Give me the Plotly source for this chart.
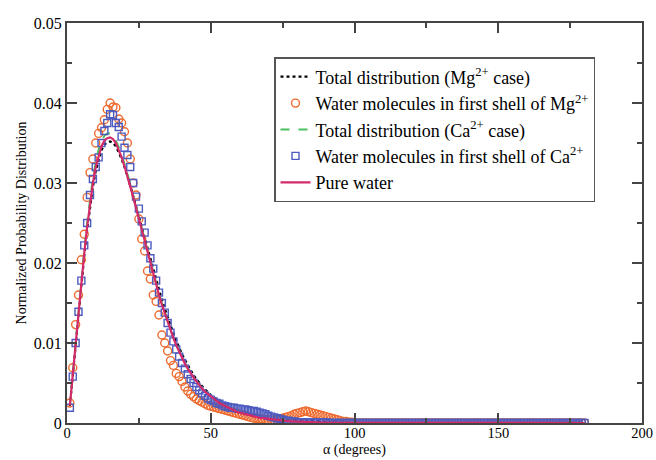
import plotly.graph_objects as go

# angle grid (degrees), 1-degree bins
alpha = list(range(1, 181))

# values for 1..100 degrees
pure_water = [
    0.0022, 0.0062, 0.0102, 0.0140, 0.0177, 0.0212, 0.0245, 0.0275, 0.0300, 0.0320,
    0.0335, 0.0346, 0.0353, 0.0356, 0.0357, 0.0355, 0.0350, 0.0342, 0.0332, 0.0321,
    0.0309, 0.0296, 0.0283, 0.0269, 0.0255, 0.0241, 0.0227, 0.0213, 0.0199, 0.0186,
    0.0173, 0.0160, 0.0148, 0.0137, 0.0126, 0.0116, 0.0106, 0.0097, 0.0089, 0.0081,
    0.0074, 0.0068, 0.0062, 0.0057, 0.0052, 0.0047, 0.0043, 0.0039, 0.0036, 0.0033,
    0.0030, 0.0027, 0.0025, 0.0023, 0.0021, 0.0019, 0.0017, 0.0016, 0.0014, 0.0013,
    0.0012, 0.0011, 0.0010, 0.0009, 0.0008, 0.0007, 0.00065, 0.0006, 0.00055, 0.0005,
    0.00045, 0.0004, 0.00035, 0.0003, 0.00028, 0.00025, 0.00022, 0.0002, 0.00018, 0.00016,
    0.00014, 0.00012, 0.0001, 0.00009, 0.00008, 0.00007, 0.00006, 0.00005, 0.00004, 0.00003,
    0.00003, 0.00002, 0.00002, 0.00001, 0.00001, 0.00001, 0.0, 0.0, 0.0, 0.0,
]

total_mg = [
    0.0021, 0.0060, 0.0100, 0.0138, 0.0175, 0.0209, 0.0241, 0.0270, 0.0295, 0.0315,
    0.0330, 0.0341, 0.0348, 0.0351, 0.0352, 0.0350, 0.0346, 0.0339, 0.0330, 0.0320,
    0.0309, 0.0297, 0.0284, 0.0271, 0.0258, 0.0244, 0.0231, 0.0217, 0.0204, 0.0191,
    0.0178, 0.0166, 0.0154, 0.0143, 0.0132, 0.0122, 0.0112, 0.0103, 0.0094, 0.0086,
    0.0079, 0.0072, 0.0066, 0.0060, 0.0055, 0.0050, 0.0046, 0.0042, 0.0038, 0.0035,
    0.0032, 0.0029, 0.0026, 0.0024, 0.0022, 0.0020, 0.0018, 0.0016, 0.0015, 0.0013,
    0.0012, 0.0011, 0.0010, 0.0009, 0.0008, 0.0007, 0.0007, 0.0006, 0.0006, 0.0005,
    0.0005, 0.0004, 0.0004, 0.0004, 0.0004, 0.0004, 0.0004, 0.0004, 0.0004, 0.0004,
    0.0004, 0.0004, 0.0004, 0.0004, 0.0003, 0.0003, 0.0003, 0.0002, 0.0002, 0.0002,
    0.0001, 0.0001, 0.0001, 0.0001, 0.0001, 0.0, 0.0, 0.0, 0.0, 0.0,
]

total_ca = [
    0.0022, 0.0062, 0.0103, 0.0142, 0.0180, 0.0216, 0.0250, 0.0280, 0.0306, 0.0326,
    0.0342, 0.0352, 0.0359, 0.0362, 0.0362, 0.0359, 0.0353, 0.0345, 0.0335, 0.0324,
    0.0312, 0.0299, 0.0286, 0.0272, 0.0258, 0.0244, 0.0229, 0.0215, 0.0201, 0.0188,
    0.0174, 0.0162, 0.0150, 0.0138, 0.0127, 0.0117, 0.0107, 0.0098, 0.0090, 0.0082,
    0.0075, 0.0069, 0.0063, 0.0058, 0.0053, 0.0048, 0.0044, 0.0041, 0.0037, 0.0034,
    0.0031, 0.0029, 0.0026, 0.0024, 0.0022, 0.0020, 0.0019, 0.0017, 0.0016, 0.0015,
    0.0013, 0.0012, 0.0011, 0.0010, 0.0009, 0.0008, 0.0007, 0.0007, 0.0006, 0.0005,
    0.0005, 0.0004, 0.0004, 0.0003, 0.0003, 0.0003, 0.0002, 0.0002, 0.0002, 0.0002,
    0.0001, 0.0001, 0.0001, 0.0001, 0.0001, 0.0001, 0.0001, 0.0001, 0.0001, 0.0001,
    0.0, 0.0, 0.0, 0.0, 0.0, 0.0, 0.0, 0.0, 0.0, 0.0,
]

shell_mg = [
    0.0025, 0.0069, 0.0123, 0.0160, 0.0204, 0.0236, 0.0282, 0.0313, 0.0330, 0.0350,
    0.0362, 0.0369, 0.0379, 0.0392, 0.0400, 0.0395, 0.0394, 0.0380, 0.0375, 0.0364,
    0.0350, 0.0330, 0.0300, 0.0285, 0.0255, 0.0230, 0.0215, 0.0190, 0.0180, 0.0160,
    0.0152, 0.0135, 0.0110, 0.0100, 0.0090, 0.0078, 0.0072, 0.0062, 0.0058, 0.0052,
    0.0045, 0.0040, 0.0036, 0.0033, 0.0030, 0.0028, 0.0026, 0.0024, 0.0022, 0.0021,
    0.0020, 0.0019, 0.0018, 0.0017, 0.0016, 0.0015, 0.0014, 0.0013, 0.0012, 0.0011,
    0.0010, 0.0009, 0.0008, 0.0007, 0.0006, 0.0006, 0.0005, 0.0005, 0.0004, 0.0004,
    0.0004, 0.0003, 0.0004, 0.0005, 0.0006, 0.0007, 0.0008, 0.0009, 0.0011, 0.0012,
    0.0013, 0.0014, 0.0015, 0.0014, 0.0013, 0.0012, 0.0011, 0.0010, 0.0009, 0.0008,
    0.0007, 0.0006, 0.0005, 0.0004, 0.0003, 0.0002, 0.0002, 0.0001, 0.0001, 0.0,
]

shell_ca = [
    0.0019, 0.0058, 0.0100, 0.0139, 0.0178, 0.0222, 0.0250, 0.0285, 0.0305, 0.0320,
    0.0332, 0.0350, 0.0365, 0.0375, 0.0386, 0.0385, 0.0375, 0.0370, 0.0358, 0.0344,
    0.0335, 0.0320, 0.0300, 0.0283, 0.0268, 0.0252, 0.0238, 0.0222, 0.0206, 0.0193,
    0.0178, 0.0163, 0.0150, 0.0138, 0.0125, 0.0113, 0.0102, 0.0092, 0.0083, 0.0075,
    0.0068, 0.0061, 0.0055, 0.0050, 0.0045, 0.0041, 0.0037, 0.0034, 0.0031, 0.0029,
    0.0027, 0.0025, 0.0024, 0.0022, 0.0021, 0.0020, 0.0019, 0.0019, 0.0018, 0.0018,
    0.0017, 0.0017, 0.0016, 0.0015, 0.0015, 0.0014, 0.0013, 0.0012, 0.0011, 0.0009,
    0.0008, 0.0007, 0.0006, 0.0005, 0.0004, 0.0003, 0.0003, 0.0002, 0.0002, 0.0001,
    0.0001, 0.0001, 0.0001, 0.0001, 0.0001, 0.0001, 0.0001, 0.0001, 0.0001, 0.0001,
    0.0, 0.0, 0.0, 0.0, 0.0, 0.0, 0.0, 0.0, 0.0, 0.0,
]

# 101..180 degrees: all series are zero
tail = [
    0.0, 0.0, 0.0, 0.0, 0.0, 0.0, 0.0, 0.0, 0.0, 0.0, 0.0, 0.0, 0.0, 0.0, 0.0, 0.0, 0.0, 0.0, 0.0, 0.0,
    0.0, 0.0, 0.0, 0.0, 0.0, 0.0, 0.0, 0.0, 0.0, 0.0, 0.0, 0.0, 0.0, 0.0, 0.0, 0.0, 0.0, 0.0, 0.0, 0.0,
    0.0, 0.0, 0.0, 0.0, 0.0, 0.0, 0.0, 0.0, 0.0, 0.0, 0.0, 0.0, 0.0, 0.0, 0.0, 0.0, 0.0, 0.0, 0.0, 0.0,
    0.0, 0.0, 0.0, 0.0, 0.0, 0.0, 0.0, 0.0, 0.0, 0.0, 0.0, 0.0, 0.0, 0.0, 0.0, 0.0, 0.0, 0.0, 0.0, 0.0,
]

x_tickvals = [0, 50, 100, 150, 200]
y_tickvals = [0, 0.01, 0.02, 0.03, 0.04, 0.05]
y_ticktext = ["0", "0.01", "0.02", "0.03", "0.04", "0.05"]

FONT = "Liberation Serif, Times New Roman, serif"

fig = go.Figure()
fig.add_trace(go.Scatter(
    x=alpha, y=total_mg + tail, mode="lines",
    name="Total distribution (Mg<sup>2+</sup> case)",
    line=dict(color="black", width=2.2, dash="dot"),
))
fig.add_trace(go.Scatter(
    x=alpha, y=shell_mg + tail, mode="markers",
    name="Water molecules in first shell of Mg<sup>2+</sup>",
    marker=dict(symbol="circle-open", size=8, color="#ee6a2e", line=dict(width=1.4)),
))
fig.add_trace(go.Scatter(
    x=alpha, y=total_ca + tail, mode="lines",
    name="Total distribution (Ca<sup>2+</sup> case)",
    line=dict(color="#4cc060", width=2, dash="dash"),
))
fig.add_trace(go.Scatter(
    x=alpha, y=shell_ca + tail, mode="markers",
    name="Water molecules in first shell of Ca<sup>2+</sup>",
    marker=dict(symbol="square-open", size=7, color="#4d5bbf", line=dict(width=1.4)),
))
fig.add_trace(go.Scatter(
    x=alpha, y=pure_water + tail, mode="lines",
    name="Pure water",
    line=dict(color="#d42a6a", width=2.2),
))

axis_common = dict(
    showline=True, linecolor="#444", linewidth=2, mirror="allticks",
    ticks="inside", ticklen=10, tickwidth=1.5, tickcolor="#444",
    showgrid=False, zeroline=False, automargin=False,
)

fig.update_xaxes(
    range=[0, 200], tickvals=x_tickvals,
    tickfont=dict(family=FONT, size=14.5, color="black"),
    ticklabelstandoff=-4,
    minor=dict(ticks="inside", ticklen=5, tickwidth=1.5, tickcolor="#444", dtick=25, showgrid=False),
    **axis_common,
)
fig.update_yaxes(
    range=[0, 0.05], tickvals=y_tickvals, ticktext=y_ticktext,
    tickfont=dict(family=FONT, size=16, color="black"),
    minor=dict(ticks="inside", ticklen=5, tickwidth=1.5, tickcolor="#444", dtick=0.005, showgrid=False),
    title=dict(text="Normalized Probability Distribution", font=dict(family=FONT, size=14, color="black"), standoff=4),
    **axis_common,
)

fig.add_annotation(
    text="α (degrees)", xref="paper", yref="paper", x=0.5, y=-37 / 400,
    xanchor="center", yanchor="bottom", yshift=0, showarrow=False,
    font=dict(family=FONT, size=14, color="black"),
)

fig.update_layout(
    width=656, height=460,
    margin=dict(l=67, r=14, t=23, b=37),
    plot_bgcolor="white", paper_bgcolor="white",
    font=dict(family=FONT, color="black"),
    legend=dict(
        x=0.36, y=0.915, xanchor="left", yanchor="top",
        bgcolor="white", bordercolor="#555", borderwidth=1.5,
        font=dict(family=FONT, size=18, color="black"),
        itemwidth=30, tracegroupgap=0,
    ),
    showlegend=True,
)

fig.write_html("out.html")
